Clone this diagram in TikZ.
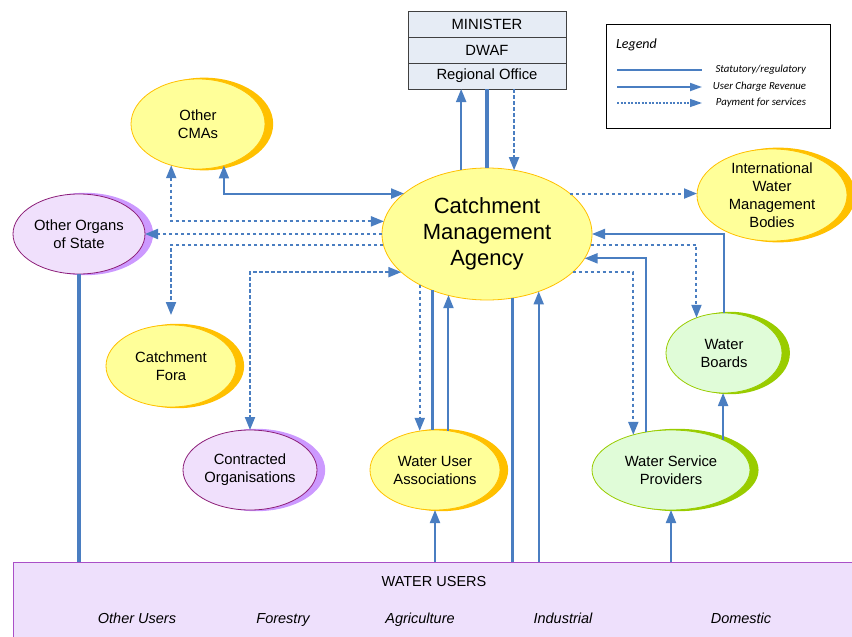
\documentclass[tikz,border=0pt]{standalone}
\usepackage{fontspec}
\setmainfont{Liberation Sans}
\newfontfamily\legendfont{Carlito}
\usetikzlibrary{arrows.meta,shadows,shapes.geometric}
\definecolor{lineblue}{RGB}{74,126,193}
\definecolor{ylwfill}{RGB}{255,255,153}
\definecolor{gold}{RGB}{255,192,0}
\definecolor{lavfill}{RGB}{240,224,252}
\definecolor{lavshadow}{RGB}{204,153,255}
\definecolor{plum}{RGB}{140,30,120}
\definecolor{grnfill}{RGB}{224,252,216}
\definecolor{grnline}{RGB}{153,204,0}
\definecolor{boxfill}{RGB}{230,236,245}
\definecolor{darkframe}{RGB}{64,64,64}
\definecolor{wuline}{RGB}{170,80,200}
\definecolor{wufill}{RGB}{238,224,252}
\begin{document}
\begin{tikzpicture}[x=1pt,y=-1pt,
  >={Triangle[length=13pt,width=10pt]},
  every node/.style={inner sep=0pt,outer sep=0pt},
  lbl/.style={font=\fontsize{14.8}{18}\selectfont,align=center},
  blob/.style 2 args={ellipse,lbl,minimum width=#1pt,minimum height=#2pt},
  ylw/.style={draw=gold,line width=0.8pt,fill=ylwfill},
  ylwsh/.style={ylw,general shadow={fill=gold,shadow xshift=6pt,shadow scale=1.03}},
  lav/.style={draw=plum,line width=0.8pt,fill=lavfill,general shadow={fill=lavshadow,shadow xshift=6pt,shadow scale=1.03}},
  grn/.style={draw=grnline,line width=0.8pt,fill=grnfill,general shadow={fill=grnline,shadow xshift=6pt,shadow scale=1.03}},
  stat/.style={draw=lineblue,line width=3.2pt},
  rev/.style={draw=lineblue,line width=2pt},
  pay/.style={draw=lineblue,line width=2pt,dash pattern=on 3.5pt off 2.5pt},
  tbox/.style={draw=darkframe,line width=0.8pt,fill=boxfill,minimum width=158pt,minimum height=26pt,lbl},
  usertxt/.style={font=\fontsize{14.5}{18}\selectfont\itshape,anchor=base},
  legtxt/.style={font=\legendfont\itshape\fontsize{10.8}{12}\selectfont,anchor=east},
]
\useasboundingbox (0,0) rectangle (852,637);

% water users band
\node[fill=wufill,minimum width=839pt,minimum height=75pt] (wu) at (432.5,599.5) {};
\draw[wuline,line width=1pt] (wu.north east) -- (wu.north west) -- (wu.south west);
\node[font=\fontsize{14.5}{18}\selectfont] (wutitle) at (434,582) {WATER USERS};
\node[usertxt] (u1) at (137,623) {Other Users};
\node[usertxt] (u2) at (283,623) {Forestry};
\node[usertxt] (u3) at (420,623) {Agriculture};
\node[usertxt] (u4) at (563,623) {Industrial};
\node[usertxt] (u5) at (741,623) {Domestic};

% top box
\node[tbox] (min) at (487,24) {MINISTER};
\node[tbox] (dwaf) at (487,50) {DWAF};
\node[tbox] (ro) at (487,76) {Regional Office};

% ellipses
\node[blob={134}{90},ylwsh] (cmas) at (198,124) {Other\\CMAs};
\node[blob={132}{80},lav] (oos) at (79,234) {Other Organs\\of State};
\node[blob={210}{132},ylw,font=\fontsize{22}{26}\selectfont] (cma) at (487,234) {Catchment\\Management\\Agency};
\node[blob={150}{92},ylwsh,inner ysep=-4pt] (iwmb) at (772,195) {International\\Water\\Management\\Bodies};
\node[blob={130}{82},ylwsh] (cf) at (171,366) {Catchment\\Fora};
\node[blob={134}{80},lav] (co) at (250,470) {Contracted\\Organisations};
\node[blob={130}{80},ylwsh] (wua) at (435,470) {Water User\\Associations};
\node[blob={158}{80},grn] (wsp) at (671,470) {Water Service\\Providers};
\node[blob={116}{80},grn] (wb) at (724,353) {Water\\Boards};

% top connectors
\draw[rev,->] (cma.112.1) -- (cma.112.1 |- ro.south);
\draw[stat] (cma.north) -- (ro.south);
\draw[pay,->] (cma.67.9 |- ro.south) -- (cma.67.9);

% other CMAs
\draw[pay,<->] (cmas.237.9) |- (cma.173.4);
\draw[rev,<->] (cmas.302.1) |- (cma.154.4);

% other organs of state
\draw[pay,->] (cma.west) -- (oos.east);
\draw[stat] (oos.south) -- (oos.south |- wu.north);

% catchment fora
\draw[pay,->,shorten >=10pt] (cma.186.6) -| (cf.north);

% contracted organisations
\draw[pay,<->] (cma.204.7) -| (co.north);

% water user associations
\draw[pay,->] (cma.217.9) -- (cma.217.9 |- wua.109.7);
\draw[stat] (cma.226.3) -- (cma.226.3 |- wua.north);
\draw[rev,->] (wua.71.7) -- (wua.71.7 |- cma.237.5);
\draw[rev,->] (wu.north -| wua.south) -- (wua.south);

% water users direct
\draw[stat] (cma.292.1) -- (cma.292.1 |- wu.north);
\draw[rev,->] (cma.312.2 |- wu.north) -- (cma.312.2);

% right side
\draw[pay,->] (cma.26.5) -- (cma.26.5 -| iwmb.west);
\draw[rev,->] (wb.north) |- (cma.east);
\draw[pay,->] (cma.-6.6) -| (wb.128.7);
\draw[rev,->] (wsp.123.4) |- (cma.-14.4);
\draw[pay,->] (cma.-24.7) -| (wsp.137.3);
\draw[rev,->] (wsp.30.1) -- (wsp.30.1 |- wb.south);
\draw[rev,->] (wu.north -| wsp.south) -- (wsp.south);

% legend
\node[draw=black,line width=0.8pt,minimum width=224pt,minimum height=104pt] (legend) at (718,76) {};
\node[font=\legendfont\itshape\fontsize{14}{16}\selectfont,anchor=west] (legtitle) at (616,45) {Legend};
\coordinate (s1) at (617,70); \coordinate (s2) at (702,70);
\coordinate (r1) at (617,87); \coordinate (r2) at (702,87);
\coordinate (p1) at (617,103); \coordinate (p2) at (702,103);
\draw[draw=lineblue,line width=2pt] (s1) -- (s2);
\draw[draw=lineblue,line width=1.8pt,-{Triangle[length=12pt,width=8pt]}] (r1) -- (r2);
\draw[draw=lineblue,line width=1.3pt,dash pattern=on 2pt off 1.5pt,-{Triangle[length=12pt,width=8pt]}] (p1) -- (p2);
\node[legtxt] (lt1) at (806,70) {Statutory/regulatory};
\node[legtxt] (lt2) at (806,87) {User Charge Revenue};
\node[legtxt] (lt3) at (806,103) {Payment for services};
\end{tikzpicture}
\end{document}
